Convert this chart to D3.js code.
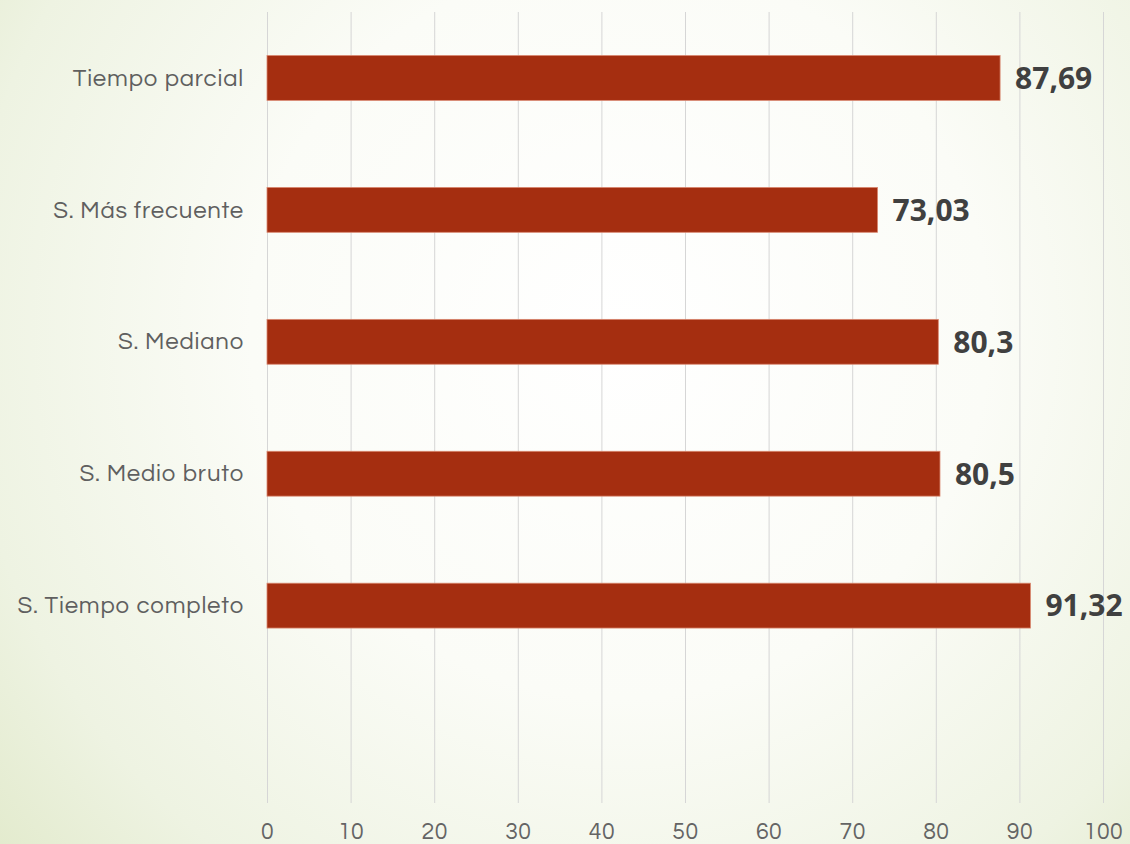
<!DOCTYPE html>
<html>
<head>
<meta charset="utf-8">
<script src="https://cdn.jsdelivr.net/npm/d3@7/dist/d3.min.js"></script>
<style>
  html, body { margin: 0; padding: 0; }
  body { width: 1130px; height: 844px; overflow: hidden; }
  svg { display: block; }
</style>
</head>
<body>
<svg id="chart" width="1130" height="844"></svg>
<script>
// Category names, top to bottom
const categories = ["Tiempo parcial", "S. Más frecuente", "S. Mediano", "S. Medio bruto", "S. Tiempo completo"];
// Values for each category
const values = [87.69, 73.03, 80.3, 80.5, 91.32];
// Value labels as printed
const valueLabels = ["87,69", "73,03", "80,3", "80,5", "91,32"];
// X-axis ticks
const xTicks = [0, 10, 20, 30, 40, 50, 60, 70, 80, 90, 100];

const W = 1130, H = 844;
const margin = { top: 12, right: 27, bottom: 41, left: 267 };
const svg = d3.select("#chart");
const labelFont = "'Century Gothic', 'Questrial', Lato, 'DejaVu Sans', sans-serif";

// Background: soft pale-green radial wash
const defs = svg.append("defs");
const grad = defs.append("radialGradient")
  .attr("id", "bg").attr("gradientUnits", "userSpaceOnUse")
  .attr("cx", 620).attr("cy", 330).attr("r", 820);
grad.append("stop").attr("offset", "0%").attr("stop-color", "#ffffff");
grad.append("stop").attr("offset", "45%").attr("stop-color", "#fbfcf7");
grad.append("stop").attr("offset", "80%").attr("stop-color", "#eef3e2");
grad.append("stop").attr("offset", "100%").attr("stop-color", "#e2eacc");
svg.append("rect").attr("width", W).attr("height", H).attr("fill", "url(#bg)");

// Band slots: the five categories plus one empty slot at the bottom
const slots = categories.concat(["__blank__"]);

const x = d3.scaleLinear().domain([0, 100]).range([margin.left, W - margin.right]);
const y = d3.scaleBand().domain(slots)
  .range([margin.top, H - margin.bottom + 0.5])
  .paddingInner(0.66).paddingOuter(0.33);

const plotTop = margin.top, plotBottom = H - margin.bottom;

// Vertical gridlines
svg.append("g").selectAll("line").data(xTicks).join("line")
  .attr("x1", d => x(d) + 0.5).attr("x2", d => x(d) + 0.5)
  .attr("y1", plotTop).attr("y2", plotBottom)
  .attr("stroke", "#d6d6d6").attr("stroke-width", 1);

// X axis tick labels
const xAxis = d3.axisBottom(x).tickValues(xTicks).tickSize(0).tickPadding(0).tickFormat(d3.format("d"));
const gx = svg.append("g").attr("transform", `translate(0,${plotBottom + 18})`).call(xAxis);
gx.select(".domain").remove();
gx.selectAll("text")
  .attr("dy", "0.35em")
  .attr("y", 10)
  .style("font-family", labelFont)
  .style("font-size", "23px")
  .style("letter-spacing", "0.5px")
  .style("fill", "#646464");

// Y axis category labels
const yAxis = d3.axisLeft(y).tickSize(0).tickPadding(23)
  .tickFormat(d => d === "__blank__" ? "" : d);
const gy = svg.append("g").attr("transform", `translate(${margin.left},0)`).call(yAxis);
gy.select(".domain").remove();
gy.selectAll("text")
  .style("font-family", labelFont)
  .style("font-size", "24px")
  .style("letter-spacing", "0.8px")
  .style("fill", "#5f5f5f");

const data = categories.map((c, i) => ({ cat: c, value: values[i], label: valueLabels[i] }));

// Bars
svg.append("g").selectAll("rect").data(data).join("rect")
  .attr("x", x(0))
  .attr("y", d => y(d.cat))
  .attr("width", d => x(d.value) - x(0))
  .attr("height", y.bandwidth())
  .attr("fill", "#a52e10")
  .attr("stroke", "#d9876f")
  .attr("stroke-width", 0.8);

// Value labels
svg.append("g").selectAll("text").data(data).join("text")
  .attr("x", d => x(d.value) + 15)
  .attr("y", d => y(d.cat) + y.bandwidth() / 2)
  .attr("dy", "0.36em")
  .style("font-family", "'Open Sans', 'DejaVu Sans', sans-serif")
  .style("font-weight", "bold")
  .style("font-size", "30px")
  .style("fill", "#404040")
  .text(d => d.label);
</script>
</body>
</html>
